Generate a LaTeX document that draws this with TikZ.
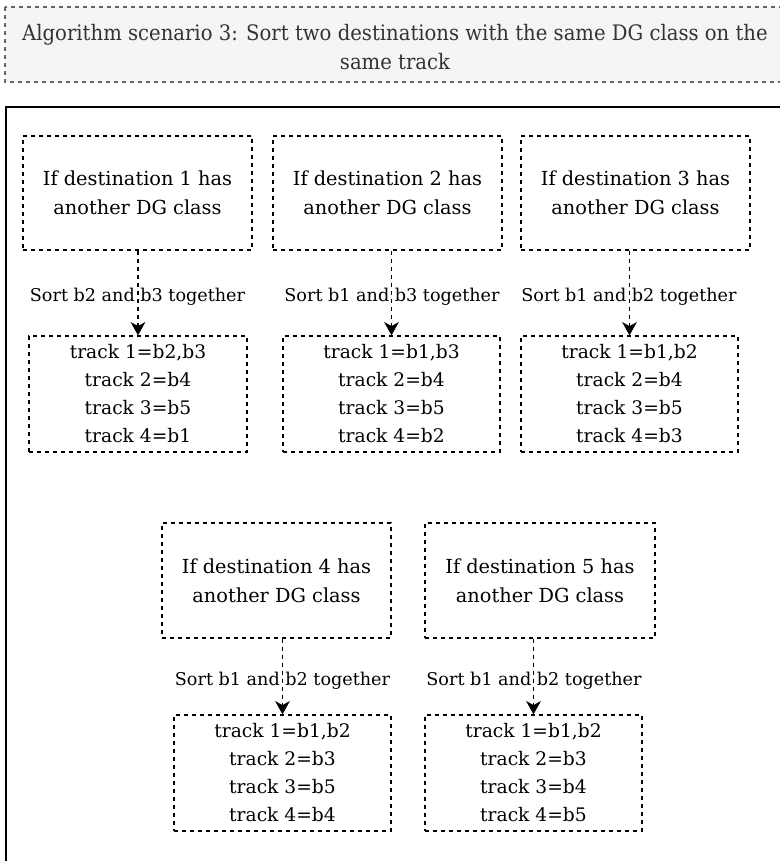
\documentclass[tikz,border=0pt]{standalone}
\usepackage{fontspec}
\setmainfont{DejaVu Serif}
\newfontfamily\titlefont[FakeStretch=0.92]{DejaVu Serif}
\usetikzlibrary{arrows.meta}
\definecolor{titlefill}{HTML}{F5F5F5}
\definecolor{titledraw}{HTML}{666666}
\definecolor{titletext}{HTML}{333333}
\tikzset{
  condbox/.style={draw=black, line width=0.9pt, dash pattern=on 3pt off 3pt, inner sep=0pt},
  trackbox/.style={draw=black, line width=0.9pt, dash pattern=on 3pt off 3pt, inner sep=0pt},
  condtext/.style={font=\fontsize{14.5pt}{21.75pt}\selectfont, align=center},
  tracktext/.style={font=\fontsize{14pt}{21pt}\selectfont, align=center},
  lbltext/.style={font=\fontsize{13.2pt}{16pt}\selectfont, inner sep=0pt},
  flowarrow/.style={draw=black, line width=0.9pt, dash pattern=on 3pt off 3pt, -{Stealth[length=10pt, width=11pt, inset=3pt]}},
}
\begin{document}
\begin{tikzpicture}[x=0.75pt, y=-0.75pt]
\useasboundingbox (0,0) rectangle (779,861);
% title
\draw[fill=titlefill, draw=titledraw, line width=0.9pt, dash pattern=on 3pt off 3pt] (5,7) rectangle (795,82);
\node[text=titletext, align=center, font=\titlefont\fontsize{16pt}{21.75pt}\selectfont] (title) at (395,47)
  {Algorithm scenario 3: Sort two destinations with the same DG class on the\\same track};
% outer frame
\draw[black, line width=1.5pt] (6,107) rectangle (800,900);
% condition boxes
\node[condbox, minimum width=229*0.75pt, minimum height=114*0.75pt] (c1) at (137.5,193) {};
\node[condbox, minimum width=229*0.75pt, minimum height=114*0.75pt] (c2) at (387.5,193) {};
\node[condbox, minimum width=229*0.75pt, minimum height=114*0.75pt] (c3) at (635.5,193) {};
\node[condbox, minimum width=229*0.75pt, minimum height=115*0.75pt] (c4) at (276.5,580.5) {};
\node[condbox, minimum width=230*0.75pt, minimum height=115*0.75pt] (c5) at (540,580.5) {};
\node[condtext] at (c1) {If destination 1 has\\another DG class};
\node[condtext] at (c2) {If destination 2 has\\another DG class};
\node[condtext] at (c3) {If destination 3 has\\another DG class};
\node[condtext] at (c4) {If destination 4 has\\another DG class};
\node[condtext] at (c5) {If destination 5 has\\another DG class};
% track boxes
\node[trackbox, minimum width=218*0.75pt, minimum height=116*0.75pt] (t1) at (138,394) {};
\node[trackbox, minimum width=217*0.75pt, minimum height=116*0.75pt] (t2) at (391.5,394) {};
\node[trackbox, minimum width=217*0.75pt, minimum height=116*0.75pt] (t3) at (629.5,394) {};
\node[trackbox, minimum width=217*0.75pt, minimum height=116*0.75pt] (t4) at (282.5,773) {};
\node[trackbox, minimum width=217*0.75pt, minimum height=116*0.75pt] (t5) at (533.5,773) {};
\node[tracktext] at (t1) {track 1=b2,b3\\track 2=b4\\track 3=b5\\track 4=b1};
\node[tracktext] at (t2) {track 1=b1,b3\\track 2=b4\\track 3=b5\\track 4=b2};
\node[tracktext] at (t3) {track 1=b1,b2\\track 2=b4\\track 3=b5\\track 4=b3};
\node[tracktext] at (t4) {track 1=b1,b2\\track 2=b3\\track 3=b5\\track 4=b4};
\node[tracktext] at (t5) {track 1=b1,b2\\track 2=b3\\track 3=b4\\track 4=b5};
% arrows
\draw[flowarrow] (t1.north |- c1.south) -- (t1.north);
\draw[flowarrow] (t2.north |- c2.south) -- (t2.north);
\draw[flowarrow] (t3.north |- c3.south) -- (t3.north);
\draw[flowarrow] (t4.north |- c4.south) -- (t4.north);
\draw[flowarrow] (t5.north |- c5.south) -- (t5.north);
% labels
\node[lbltext] (l1) at (137.5,297) {Sort b2 and b3 together};
\node[lbltext] (l2) at (392,297) {Sort b1 and b3 together};
\node[lbltext] (l3) at (629,297) {Sort b1 and b2 together};
\node[lbltext] (l4) at (282.5,681) {Sort b1 and b2 together};
\node[lbltext] (l5) at (534,681) {Sort b1 and b2 together};
\end{tikzpicture}
\end{document}
